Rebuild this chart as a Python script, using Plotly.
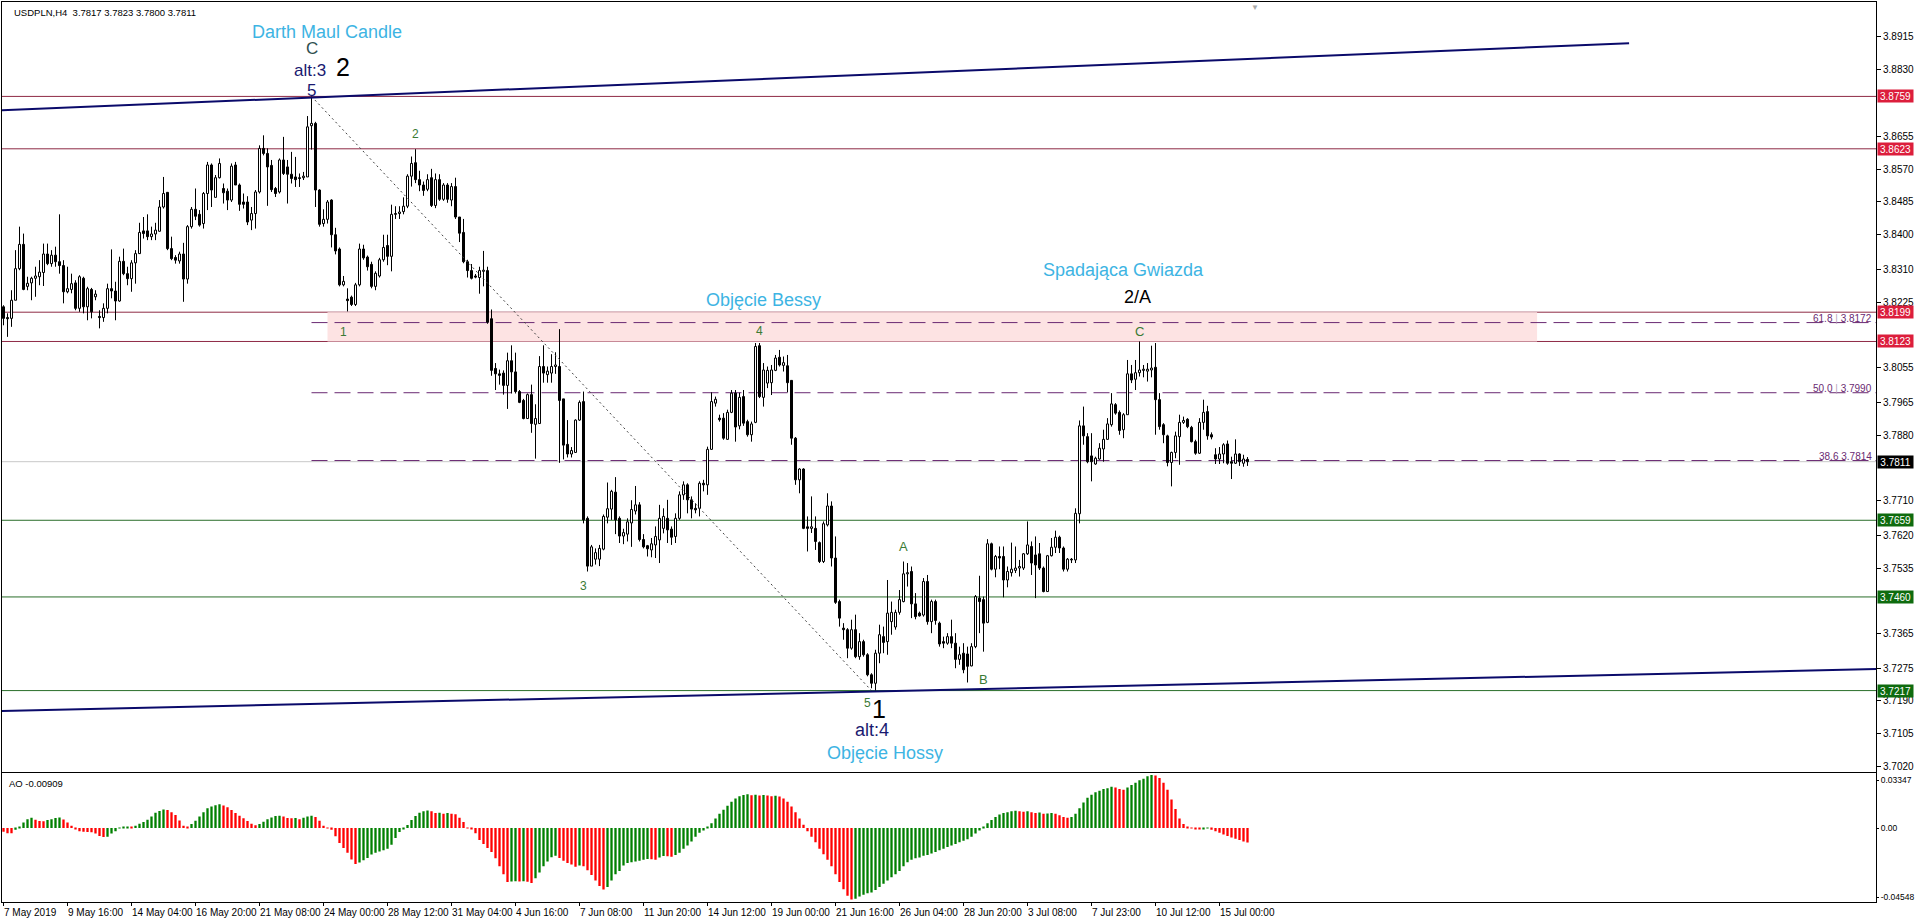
import plotly.graph_objects as go

# ---------------- data ----------------
OPEN = [
3.8213,3.8185,3.8183,3.8230,3.8312,3.8375,3.8266,3.8275,3.8287,3.8291,
3.8302,3.8350,3.8325,3.8347,3.8330,3.8320,3.8252,3.8258,3.8275,3.8209,
3.8287,3.8213,3.8258,3.8239,3.8188,3.8185,3.8209,3.8260,3.8254,3.8228,
3.8331,3.8299,3.8286,3.8327,3.8351,3.8410,3.8410,3.8395,3.8402,3.8409,
3.8472,3.8510,3.8364,3.8341,3.8332,3.8350,3.8285,3.8421,3.8466,3.8453,
3.8429,3.8507,3.8581,3.8497,3.8548,3.8520,3.8513,3.8490,3.8581,3.8529,
3.8485,3.8485,3.8438,3.8455,3.8511,3.8624,3.8611,3.8580,3.8520,3.8511,
3.8594,3.8576,3.8557,3.8550,3.8548,3.8548,3.8550,3.8683,3.8689,3.8516,
3.8429,3.8440,3.8490,3.8400,3.8363,3.8270,3.8233,3.8238,3.8219,3.8270,
3.8363,3.8342,3.8323,3.8266,3.8293,3.8335,3.8372,3.8344,3.8455,3.8455,
3.8460,3.8474,3.8552,3.8587,3.8543,3.8529,3.8518,3.8548,3.8476,3.8543,
3.8492,3.8529,3.8490,3.8525,3.8446,3.8406,3.8330,3.8307,3.8293,3.8289,
3.8305,3.8307,3.8182,3.8053,3.8039,3.8041,3.8009,3.8073,3.8044,3.7993,
3.7970,3.7923,3.7985,3.7908,3.7910,3.8058,3.8037,3.8041,3.8058,3.8058,
3.7974,3.7856,3.7831,3.7835,3.7919,3.7967,3.7664,3.7540,3.7558,3.7558,
3.7584,3.7667,3.7688,3.7732,3.7664,3.7618,3.7623,3.7652,3.7683,3.7699,
3.7609,3.7593,3.7582,3.7595,3.7608,3.7638,3.7664,3.7636,3.7617,3.7664,
3.7725,3.7751,3.7712,3.7690,3.7690,3.7755,3.7751,3.7843,3.7963,3.7924,
3.7924,3.7869,3.7939,3.7989,3.7904,3.7980,3.7915,3.7881,3.7913,3.8112,
3.7978,3.8015,3.8016,3.8048,3.8082,3.8061,3.8060,3.8022,3.7872,3.7764,
3.7792,3.7642,3.7638,3.7638,3.7601,3.7552,3.7647,3.7696,3.7561,3.7448,
3.7379,3.7375,3.7327,3.7375,3.7305,3.7344,3.7310,3.7258,3.7236,3.7314,
3.7357,3.7344,3.7396,3.7382,3.7420,3.7448,3.7520,3.7526,3.7442,3.7418,
3.7413,3.7500,3.7396,3.7448,3.7392,3.7344,3.7340,3.7357,3.7340,3.7298,
3.7314,3.7312,3.7281,3.7331,3.7457,3.7453,3.7394,3.7598,3.7532,3.7565,
3.7565,3.7504,3.7523,3.7529,3.7535,3.7535,3.7572,3.7591,3.7569,3.7572,
3.7535,3.7474,3.7567,3.7589,3.7615,3.7587,3.7532,3.7558,3.7556,3.7676,
3.7904,3.7876,3.7826,3.7805,3.7818,3.7844,3.7869,3.7907,3.7959,3.7939,
3.7894,3.7933,3.8039,3.8025,3.8042,3.8048,3.8046,3.8049,3.8056,3.7972,
3.7907,3.7878,3.7809,3.7835,3.7876,3.7913,3.7921,3.7900,3.7863,3.7833,
3.7913,3.7941,3.7881,3.7829,3.7818,3.7831,3.7857,3.7811,3.7807,3.7831,
3.7807,3.7817]
HIGH = [
3.8217,3.8196,3.8256,3.8360,3.8421,3.8403,3.8291,3.8291,3.8317,3.8334,
3.8377,3.8377,3.8360,3.8369,3.8453,3.8334,3.8317,3.8299,3.8282,3.8295,
3.8291,3.8265,3.8262,3.8256,3.8204,3.8222,3.8273,3.8362,3.8278,3.8343,
3.8364,3.8317,3.8334,3.8360,3.8431,3.8446,3.8453,3.8421,3.8431,3.8490,
3.8550,3.8511,3.8395,3.8347,3.8356,3.8379,3.8425,3.8472,3.8520,3.8464,
3.8511,3.8589,3.8585,3.8555,3.8598,3.8533,3.8520,3.8585,3.8589,3.8533,
3.8507,3.8500,3.8472,3.8516,3.8632,3.8658,3.8624,3.8594,3.8524,3.8598,
3.8654,3.8594,3.8615,3.8602,3.8559,3.8563,3.8708,3.8759,3.8693,3.8518,
3.8466,3.8490,3.8492,3.8418,3.8367,3.8293,3.8261,3.8242,3.8275,3.8377,
3.8374,3.8346,3.8330,3.8305,3.8340,3.8400,3.8400,3.8478,3.8474,3.8474,
3.8497,3.8557,3.8603,3.8622,3.8566,3.8538,3.8557,3.8571,3.8559,3.8557,
3.8534,3.8534,3.8534,3.8548,3.8446,3.8441,3.8335,3.8324,3.8298,3.8317,
3.8358,3.8317,3.8206,3.8067,3.8050,3.8048,3.8094,3.8113,3.8094,3.7997,
3.7974,3.7988,3.8011,3.7960,3.8085,3.8113,3.8058,3.8090,3.8095,3.8155,
3.7974,3.7919,3.7849,3.7921,3.7970,3.7993,3.7669,3.7595,3.7586,3.7595,
3.7674,3.7757,3.7738,3.7771,3.7669,3.7637,3.7664,3.7711,3.7748,3.7706,
3.7623,3.7595,3.7613,3.7643,3.7699,3.7690,3.7712,3.7643,3.7677,3.7734,
3.7760,3.7755,3.7721,3.7703,3.7760,3.7764,3.7850,3.7991,3.7980,3.7933,
3.7937,3.7946,3.7997,3.7997,3.7990,3.7997,3.7920,3.7915,3.8119,3.8119,
3.8067,3.8058,3.8062,3.8088,3.8101,3.8084,3.8088,3.8023,3.7875,3.7794,
3.7794,3.7669,3.7721,3.7669,3.7604,3.7656,3.7729,3.7708,3.7617,3.7453,
3.7392,3.7379,3.7401,3.7414,3.7366,3.7349,3.7314,3.7262,3.7323,3.7388,
3.7383,3.7504,3.7448,3.7427,3.7478,3.7552,3.7548,3.7539,3.7470,3.7422,
3.7509,3.7517,3.7453,3.7453,3.7396,3.7357,3.7366,3.7401,3.7366,3.7331,
3.7340,3.7331,3.7340,3.7465,3.7515,3.7461,3.7610,3.7601,3.7569,3.7591,
3.7591,3.7539,3.7601,3.7591,3.7556,3.7574,3.7656,3.7604,3.7617,3.7600,
3.7539,3.7569,3.7613,3.7632,3.7619,3.7591,3.7561,3.7561,3.7690,3.7918,
3.7954,3.7885,3.7885,3.7824,3.7859,3.7894,3.7924,3.7989,3.7963,3.7944,
3.7937,3.8075,3.8062,3.8075,3.8123,3.8062,3.8067,3.8112,3.8119,3.7989,
3.7911,3.7881,3.7837,3.7889,3.7933,3.7928,3.7924,3.7904,3.7868,3.7924,
3.7972,3.7956,3.7887,3.7846,3.7849,3.7859,3.7866,3.7824,3.7869,3.7833,
3.7829,3.7823]
LOW = [
3.8165,3.8135,3.8161,3.8230,3.8308,3.8256,3.8256,3.8230,3.8239,3.8269,
3.8267,3.8321,3.8317,3.8317,3.8299,3.8222,3.8248,3.8248,3.8204,3.8200,
3.8196,3.8178,3.8183,3.8230,3.8157,3.8174,3.8196,3.8235,3.8178,3.8226,
3.8295,3.8269,3.8252,3.8273,3.8350,3.8390,3.8386,3.8386,3.8386,3.8408,
3.8468,3.8360,3.8334,3.8325,3.8325,3.8226,3.8273,3.8416,3.8438,3.8421,
3.8416,3.8464,3.8472,3.8497,3.8546,3.8481,3.8464,3.8485,3.8529,3.8462,
3.8468,3.8425,3.8412,3.8416,3.8507,3.8606,3.8475,3.8511,3.8498,3.8507,
3.8555,3.8481,3.8533,3.8524,3.8524,3.8542,3.8550,3.8621,3.8472,3.8421,
3.8421,3.8429,3.8367,3.8349,3.8266,3.8266,3.8201,3.8215,3.8215,3.8266,
3.8335,3.8307,3.8261,3.8256,3.8289,3.8330,3.8321,3.8305,3.8441,3.8441,
3.8453,3.8469,3.8525,3.8534,3.8513,3.8501,3.8513,3.8472,3.8469,3.8488,
3.8488,3.8483,3.8474,3.8441,3.8381,3.8326,3.8289,3.8284,3.8287,3.8247,
3.8266,3.8169,3.8034,3.7997,3.8011,3.7985,3.7948,3.7988,3.7988,3.7963,
3.7921,3.7923,3.7886,3.7819,3.7910,3.8016,3.8016,3.8016,3.8039,3.7808,
3.7817,3.7822,3.7822,3.7834,3.7917,3.7651,3.7526,3.7540,3.7544,3.7540,
3.7581,3.7651,3.7660,3.7623,3.7600,3.7597,3.7604,3.7590,3.7674,3.7604,
3.7586,3.7565,3.7563,3.7561,3.7548,3.7625,3.7600,3.7595,3.7600,3.7660,
3.7712,3.7677,3.7664,3.7677,3.7669,3.7734,3.7725,3.7842,3.7954,3.7915,
3.7868,3.7868,3.7937,3.7863,3.7895,3.7904,3.7876,3.7863,3.7911,3.7976,
3.7954,3.8002,3.7984,3.8046,3.8058,3.8045,3.7991,3.7855,3.7751,3.7729,
3.7636,3.7578,3.7626,3.7582,3.7548,3.7548,3.7643,3.7539,3.7442,3.7383,
3.7349,3.7301,3.7323,3.7301,3.7297,3.7305,3.7254,3.7223,3.7217,3.7288,
3.7314,3.7310,3.7362,3.7375,3.7414,3.7446,3.7487,3.7405,3.7402,3.7409,
3.7409,3.7388,3.7366,3.7388,3.7331,3.7327,3.7336,3.7327,3.7275,3.7284,
3.7262,3.7238,3.7280,3.7327,3.7366,3.7318,3.7392,3.7529,3.7511,3.7532,
3.7459,3.7485,3.7513,3.7522,3.7513,3.7530,3.7569,3.7517,3.7457,3.7530,
3.7472,3.7474,3.7565,3.7574,3.7574,3.7526,3.7526,3.7548,3.7548,3.7651,
3.7855,3.7807,3.7760,3.7803,3.7816,3.7811,3.7868,3.7902,3.7933,3.7881,
3.7872,3.7933,3.8015,3.7997,3.8032,3.8030,3.8019,3.8030,3.7881,3.7894,
3.7859,3.7799,3.7747,3.7820,3.7803,3.7909,3.7898,3.7861,3.7829,3.7831,
3.7894,3.7868,3.7869,3.7805,3.7805,3.7807,3.7803,3.7766,3.7805,3.7800,
3.7798,3.7800]
CLOSE = [
3.8183,3.8182,3.8230,3.8312,3.8375,3.8258,3.8274,3.8287,3.8293,3.8303,
3.8350,3.8325,3.8347,3.8330,3.8320,3.8252,3.8260,3.8273,3.8209,3.8291,
3.8213,3.8260,3.8200,3.8246,3.8185,3.8209,3.8260,3.8254,3.8228,3.8331,
3.8299,3.8286,3.8327,3.8351,3.8406,3.8403,3.8395,3.8402,3.8412,3.8472,
3.8507,3.8364,3.8338,3.8334,3.8350,3.8285,3.8421,3.8466,3.8448,3.8425,
3.8507,3.8581,3.8516,3.8548,3.8585,3.8509,3.8490,3.8578,3.8529,3.8479,
3.8479,3.8433,3.8455,3.8511,3.8624,3.8611,3.8576,3.8517,3.8507,3.8594,
3.8559,3.8557,3.8546,3.8543,3.8546,3.8552,3.8680,3.8689,3.8516,3.8427,
3.8440,3.8485,3.8400,3.8358,3.8270,3.8279,3.8229,3.8219,3.8270,3.8363,
3.8340,3.8317,3.8266,3.8300,3.8335,3.8367,3.8344,3.8453,3.8453,3.8459,
3.8474,3.8552,3.8585,3.8543,3.8529,3.8515,3.8543,3.8476,3.8543,3.8492,
3.8529,3.8492,3.8525,3.8446,3.8404,3.8330,3.8307,3.8287,3.8290,3.8307,
3.8308,3.8173,3.8048,3.8039,3.8035,3.8009,3.8073,3.8044,3.7993,3.7965,
3.7923,3.7985,3.7910,3.7923,3.8058,3.8041,3.8046,3.8058,3.8062,3.7970,
3.7854,3.7831,3.7840,3.7919,3.7965,3.7660,3.7540,3.7590,3.7575,3.7586,
3.7669,3.7689,3.7734,3.7660,3.7618,3.7627,3.7655,3.7687,3.7699,3.7609,
3.7590,3.7585,3.7598,3.7617,3.7664,3.7669,3.7634,3.7615,3.7664,3.7725,
3.7751,3.7712,3.7688,3.7686,3.7755,3.7751,3.7843,3.7967,3.7973,3.7920,
3.7872,3.7939,3.7989,3.7901,3.7978,3.7911,3.7881,3.7909,3.8110,3.7980,
3.8049,3.8048,3.8049,3.8080,3.8062,3.8068,3.8016,3.7872,3.7764,3.7792,
3.7638,3.7638,3.7642,3.7604,3.7552,3.7650,3.7696,3.7561,3.7446,3.7405,
3.7375,3.7327,3.7375,3.7305,3.7344,3.7310,3.7258,3.7236,3.7314,3.7362,
3.7342,3.7418,3.7420,3.7420,3.7453,3.7520,3.7523,3.7442,3.7409,3.7411,
3.7500,3.7396,3.7448,3.7399,3.7338,3.7340,3.7357,3.7340,3.7298,3.7310,
3.7271,3.7280,3.7331,3.7461,3.7448,3.7392,3.7598,3.7532,3.7565,3.7561,
3.7504,3.7526,3.7532,3.7535,3.7539,3.7572,3.7595,3.7548,3.7543,3.7535,
3.7474,3.7567,3.7589,3.7615,3.7587,3.7532,3.7558,3.7556,3.7677,3.7904,
3.7878,3.7811,3.7811,3.7820,3.7846,3.7869,3.7909,3.7961,3.7937,3.7892,
3.7933,3.8039,3.8023,3.8042,3.8049,3.8051,3.8051,3.8054,3.7972,3.7902,
3.7881,3.7809,3.7835,3.7878,3.7913,3.7918,3.7902,3.7863,3.7833,3.7913,
3.7939,3.7878,3.7875,3.7818,3.7831,3.7855,3.7807,3.7807,3.7831,3.7811,
3.7818,3.7811]
# Awesome Oscillator, in thousandths
AO_MILLI = [
-2.3,-3.3,-3.3,-1.0,0.8,3.5,5.6,6.5,5.2,4.4,
4.3,5.0,5.6,6.3,6.7,5.4,3.5,1.5,-0.8,-2.0,
-2.3,-2.5,-2.7,-3.5,-5.0,-5.6,-5.4,-3.5,-2.0,-0.2,
0.8,1.0,0.6,1.5,2.7,3.8,5.2,7.3,9.6,10.7,
11.7,11.3,10.0,8.2,4.8,1.5,0.6,2.5,4.6,7.3,
10.0,12.5,13.6,14.4,15.0,14.2,13.0,11.3,9.4,7.7,
6.1,4.4,2.7,1.7,2.5,4.0,5.6,6.7,7.5,7.7,
7.3,6.3,6.1,6.3,5.6,6.5,7.3,7.7,6.9,4.6,
1.5,0.1,-1.0,-5.2,-9.4,-12.5,-15.5,-19.8,-22.6,-21.6,
-20.3,-18.8,-16.7,-15.5,-14.8,-14.0,-13.0,-10.5,-6.3,-2.5,
-0.8,1.9,5.0,7.5,9.6,10.5,11.1,10.5,9.4,9.6,
9.0,9.4,9.0,8.6,6.5,3.8,0.2,-0.6,-3.3,-7.5,
-10.0,-12.5,-15.0,-19.0,-24.0,-29.0,-34.0,-33.6,-33.4,-33.6,
-33.4,-33.8,-34.5,-31.5,-28.0,-24.0,-21.0,-18.4,-17.5,-18.8,
-20.5,-22.0,-23.0,-24.3,-23.5,-24.0,-26.5,-29.5,-33.0,-36.5,
-38.7,-37.0,-33.0,-29.0,-27.0,-23.5,-22.0,-21.5,-21.0,-20.6,
-20.0,-19.4,-19.6,-19.9,-18.5,-17.6,-17.8,-18.0,-17.0,-15.5,
-13.0,-11.0,-8.5,-5.5,-3.0,-1.5,0.5,3.0,6.0,9.0,
11.5,14.0,16.5,18.5,20.0,20.8,21.2,20.6,21.0,20.5,
20.8,20.5,20.0,20.3,19.8,18.5,16.5,13.5,10.0,6.0,
2.0,-2.0,-5.5,-9.0,-13.0,-16.5,-20.0,-24.0,-29.0,-34.0,
-38.5,-42.5,-45.0,-44.5,-43.0,-42.0,-41.0,-40.5,-39.0,-37.0,
-35.0,-33.0,-31.0,-29.0,-27.0,-24.0,-21.5,-20.0,-19.0,-18.5,
-17.5,-17.0,-16.0,-15.0,-14.0,-13.0,-12.0,-11.0,-10.0,-9.0,
-8.0,-7.0,-5.5,-3.5,-1.5,0.5,3.0,5.0,7.0,8.5,
9.5,10.0,10.5,10.8,10.5,10.3,10.5,10.0,9.5,9.8,
9.0,9.2,9.5,9.0,8.0,7.0,6.5,7.0,9.0,12.5,
16.0,19.0,21.0,22.5,23.5,24.5,25.0,26.0,25.5,24.5,
24.0,25.5,27.0,28.5,30.0,31.0,32.5,33.4,33.0,31.5,
28.5,24.0,18.0,12.0,6.0,2.5,1.0,0.2,-0.5,-0.8,
-0.5,-0.2,-1.0,-2.0,-3.0,-4.0,-5.0,-6.0,-6.8,-7.5,
-8.5,-9.1]

X_TICK_POS = [0, 16, 32, 48, 64, 80, 96, 112, 128, 144, 160, 176, 192, 208, 224, 240, 256, 272, 288, 304]
X_TICK_TEXT = ["7 May 2019", "9 May 16:00", "14 May 04:00", "16 May 20:00", "21 May 08:00",
               "24 May 00:00", "28 May 12:00", "31 May 04:00", "4 Jun 16:00", "7 Jun 08:00",
               "11 Jun 20:00", "14 Jun 12:00", "19 Jun 00:00", "21 Jun 16:00", "26 Jun 04:00",
               "28 Jun 20:00", "3 Jul 08:00", "7 Jul 23:00", "10 Jul 12:00", "15 Jul 00:00"]
# price-scale labels that stay visible (the others sit under the level boxes)
PRICE_TICKS = [3.8915, 3.8830, 3.8655, 3.8570, 3.8485, 3.8400, 3.8310, 3.8225,
               3.8055, 3.7965, 3.7880, 3.7710, 3.7620, 3.7535, 3.7365, 3.7275,
               3.7190, 3.7105, 3.7020]
RED_LEVELS = [3.8759, 3.8623, 3.8199, 3.8123]
GREEN_LEVELS = [3.7659, 3.7460, 3.7217]
LAST_PRICE = 3.7811
FIB_LEVELS = [3.8172, 3.7990, 3.7814]
FIB_RATIOS = ["61.8", "50.0", "38.6"]
SWING_HIGH = (77, 3.8759)
SWING_LOW = (217, 3.7217)
ZONE = (81, 383.4, 3.8123, 3.8199)
UPPER_TREND = [(-0.375, 3.8723), (406.4, 3.8897)]
LOWER_TREND = [(-0.375, 3.7164), (468.125, 3.7273)]
AO_TICK_TEXT = ["0.03347", "0.00", "-0.04548"]
AO_TICK_POS = [0.0302, 0.0, -0.0434]
HEADER = "USDPLN,H4\u00a0\u00a03.7817 3.7823 3.7800 3.7811"
AO_LABEL = "AO -0.00909"

# text labels: (text, bar, price, size, color)
CYAN = "#3db4e3"
NAVY = "#191970"
GREEN_T = "#3a7a34"
LABELS = [
    ("Darth Maul Candle", 80.9, 3.8926, 18, CYAN),
    ("C", 77.1, 3.8884, 17, "#2f4f4f"),
    ("alt:3", 76.6, 3.8827, 17, NAVY),
    ("5", 76.9, 3.8775, 17, NAVY),
    ("2", 84.9, 3.8835, 25, "#000000"),
    ("2", 102.9, 3.8661, 12, GREEN_T),
    ("1", 84.9, 3.8147, 12, GREEN_T),
    ("3", 144.9, 3.7488, 12, GREEN_T),
    ("4", 188.9, 3.8150, 12, GREEN_T),
    ("Objęcie Bessy", 189.9, 3.8230, 18, CYAN),
    ("5", 215.9, 3.7185, 12, GREEN_T),
    ("1", 218.9, 3.7170, 25, "#000000"),
    ("alt:4", 217.1, 3.7116, 18, NAVY),
    ("Objęcie Hossy", 220.4, 3.7056, 18, CYAN),
    ("A", 224.9, 3.7590, 13, GREEN_T),
    ("B", 244.9, 3.7245, 13, GREEN_T),
    ("C", 283.9, 3.8150, 13, GREEN_T),
    ("2/A", 283.4, 3.8238, 18, "#000000"),
    ("Spadająca Gwiazda", 280.1, 3.8309, 18, CYAN),
]

# ---------------- figure ----------------
FONT = "Liberation Sans, Arial, sans-serif"
N = len(CLOSE)
idx = list(range(N))
X_RANGE = [-0.375, 468.125]

fig = go.Figure()

# candle wicks (drawn outside the bodies)
wx, wy = [], []
for i in idx:
    top = max(OPEN[i], CLOSE[i])
    bot = min(OPEN[i], CLOSE[i])
    hi = max(HIGH[i], top)
    lo = min(LOW[i], bot)
    wx += [i, i, None, i, i, None]
    wy += [hi, top, None, bot, lo, None]
fig.add_trace(go.Scatter(x=wx, y=wy, mode="lines", line=dict(color="black", width=1),
                         hoverinfo="skip", showlegend=False, xaxis="x", yaxis="y"))

# candle bodies
base = [min(o, c) for o, c in zip(OPEN, CLOSE)]
height = [max(abs(c - o), 0.00002) for o, c in zip(OPEN, CLOSE)]
body_col = ["white" if c >= o else "black" for o, c in zip(OPEN, CLOSE)]
fig.add_trace(go.Bar(x=idx, y=height, base=base, width=0.5,
                     marker=dict(color=body_col, line=dict(color="black", width=1)),
                     hoverinfo="skip", showlegend=False, xaxis="x", yaxis="y"))

# Awesome oscillator
AO = [v / 1000.0 for v in AO_MILLI]
ao_col = ["#ff0000"] + ["#008000" if AO[k] > AO[k - 1] else "#ff0000" for k in range(1, N)]
fig.add_trace(go.Bar(x=idx, y=AO, width=0.58, marker=dict(color=ao_col, line=dict(width=0)),
                     hoverinfo="skip", showlegend=False, xaxis="x2", yaxis="y2"))

shapes = []
shapes.append(dict(type="rect", xref="x", yref="y", x0=ZONE[0], x1=ZONE[1], y0=ZONE[2], y1=ZONE[3],
                   fillcolor="#fde3e3", line=dict(width=0), layer="below"))
for lv in RED_LEVELS:
    shapes.append(dict(type="line", xref="paper", yref="y", x0=0, x1=1, y0=lv, y1=lv,
                       line=dict(color="#8e2a45", width=1), layer="below"))
for lv in GREEN_LEVELS:
    shapes.append(dict(type="line", xref="paper", yref="y", x0=0, x1=1, y0=lv, y1=lv,
                       line=dict(color="#2a6e2a", width=1), layer="below"))
shapes.append(dict(type="line", xref="paper", yref="y", x0=0, x1=1, y0=LAST_PRICE, y1=LAST_PRICE,
                   line=dict(color="#c8c8c8", width=1), layer="below"))
for lv in FIB_LEVELS:
    shapes.append(dict(type="line", xref="x", yref="y", x0=SWING_HIGH[0], x1=X_RANGE[1], y0=lv, y1=lv,
                       line=dict(color="#6a2a72", width=1, dash="16px,7px"), layer="below"))
shapes.append(dict(type="line", xref="x", yref="y", x0=SWING_HIGH[0], y0=SWING_HIGH[1],
                   x1=SWING_LOW[0], y1=SWING_LOW[1], line=dict(color="#404040", width=1, dash="2px,3px")))
for tl in (UPPER_TREND, LOWER_TREND):
    shapes.append(dict(type="line", xref="x", yref="y", x0=tl[0][0], y0=tl[0][1], x1=tl[1][0], y1=tl[1][1],
                       line=dict(color="#0a0a6a", width=2)))

ann = []
for text, bx, py, size, col in LABELS:
    ann.append(dict(text=text, x=bx, y=py, xref="x", yref="y", showarrow=False, borderpad=0,
                    font=dict(family=FONT, size=size, color=col), xanchor="center", yanchor="middle"))


def level_box(lv, color):
    return dict(text=f"{lv:.4f}", x=1, y=lv, xref="paper", yref="y", xanchor="left", yanchor="middle",
                xshift=1, showarrow=False, bgcolor=color, width=35, height=12, borderpad=0,
                font=dict(family=FONT, size=10, color="white"))


for lv in RED_LEVELS:
    ann.append(level_box(lv, "#dc1e3c"))
for lv in GREEN_LEVELS:
    ann.append(level_box(lv, "#0e6b0e"))
ann.append(level_box(LAST_PRICE, "#000000"))
for lv, r in zip(FIB_LEVELS, FIB_RATIOS):
    sep = ' <span style="color:#b9a3bd">|</span> ' if r != "38.6" else " "
    ann.append(dict(text=f"{r}{sep}{lv:.4f}", x=1, y=lv, xref="paper", yref="y", xanchor="right",
                    yanchor="bottom", xshift=-2, yshift=-3, showarrow=False,
                    font=dict(family=FONT, size=10, color="#6a2a72")))
for pos, txt in zip(X_TICK_POS, X_TICK_TEXT):
    ann.append(dict(text=txt, x=pos, y=0, xref="x", yref="paper", xanchor="left", yanchor="top",
                    xshift=-2, yshift=-3, showarrow=False, font=dict(family=FONT, size=10, color="black")))
ann.append(dict(text=HEADER, x=0, y=1, xref="paper", yref="paper", xanchor="left", yanchor="top",
                xshift=10, yshift=-3, showarrow=False, font=dict(family=FONT, size=9.5, color="black")))
ann.append(dict(text=AO_LABEL, x=0, y=0.1428, xref="paper", yref="paper", xanchor="left", yanchor="top",
                xshift=5, yshift=-3, showarrow=False, font=dict(family=FONT, size=9.5, color="black")))
ann.append(dict(text="▼", x=312.9, y=1, xref="x", yref="paper", xanchor="center", yanchor="top",
                yshift=1, showarrow=False, font=dict(family=FONT, size=8, color="#a8a8a8")))

fig.update_layout(
    width=1916, height=923, autosize=False,
    margin=dict(l=2, r=40, t=2, b=21, pad=0),
    paper_bgcolor="white", plot_bgcolor="white",
    showlegend=False, hovermode=False, barmode="overlay",
    shapes=shapes, annotations=ann,
    font=dict(family=FONT, size=10, color="black"),
    xaxis=dict(domain=[0, 1], anchor="y", range=X_RANGE, showticklabels=False, ticks="",
               showgrid=False, zeroline=False, showline=True, mirror=True, linecolor="black",
               linewidth=1, fixedrange=True, automargin=False),
    xaxis2=dict(domain=[0, 1], anchor="y2", matches="x", range=X_RANGE, showticklabels=False,
                ticks="outside", ticklen=3, tickcolor="black", tickvals=X_TICK_POS,
                showgrid=False, zeroline=False, showline=True, mirror=True, linecolor="black",
                linewidth=1, fixedrange=True, automargin=False),
    yaxis=dict(domain=[0.145, 1], anchor="x", side="right", range=[3.7007, 3.9004],
               tickvals=PRICE_TICKS, ticktext=[f"{v:.4f}" for v in PRICE_TICKS],
               ticks="outside", ticklen=4, tickcolor="black", tickfont=dict(family=FONT, size=10),
               showgrid=False, zeroline=False, showline=True, mirror=True, linecolor="black",
               linewidth=1, fixedrange=True, automargin=False),
    yaxis2=dict(domain=[0, 0.1428], anchor="x2", side="right", range=[-0.0465, 0.0343],
                tickvals=AO_TICK_POS, ticktext=AO_TICK_TEXT, ticks="outside", ticklen=2,
                tickcolor="black", tickfont=dict(family=FONT, size=8.5),
                showgrid=False, zeroline=False, showline=True, mirror=True, linecolor="black",
                linewidth=1, fixedrange=True, automargin=False),
)

fig.write_html("out.html", config={"displayModeBar": False, "responsive": False},
               post_script="document.body.style.margin='0';document.body.style.overflow='hidden';")
